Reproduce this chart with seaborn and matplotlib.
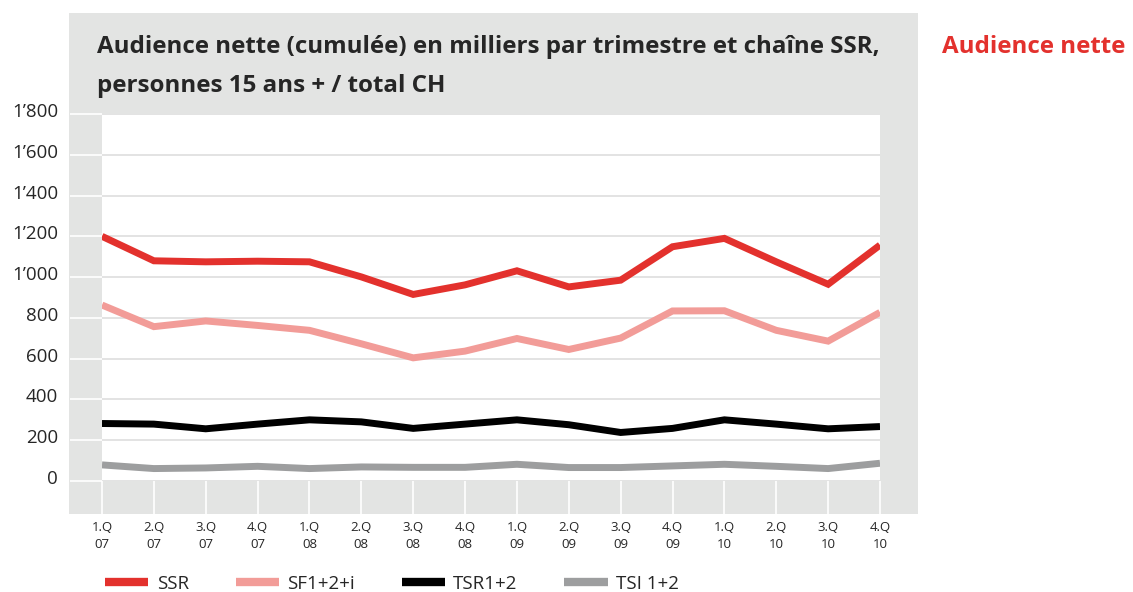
import pandas as pd
import numpy as np
import matplotlib.pyplot as plt
import matplotlib.transforms as mtrans
from matplotlib.patches import Rectangle
import seaborn as sns

# --- données ---
quarters = ["1.Q\n07", "2.Q\n07", "3.Q\n07", "4.Q\n07",
            "1.Q\n08", "2.Q\n08", "3.Q\n08", "4.Q\n08",
            "1.Q\n09", "2.Q\n09", "3.Q\n09", "4.Q\n09",
            "1.Q\n10", "2.Q\n10", "3.Q\n10", "4.Q\n10"]
ssr = [1200, 1080, 1075, 1078, 1075, 1001, 915, 962,
       1031, 952, 985, 1149, 1190, 1075, 965, 1157]
sf = [863, 757, 785, 763, 739, 673, 604, 637,
      699, 645, 701, 834, 835, 739, 686, 827]
tsr = [282, 279, 256, 279, 300, 290, 258, 279,
       300, 276, 238, 258, 300, 279, 256, 267]
tsi = [79, 61, 64, 72, 61, 69, 67, 67,
       82, 66, 66, 74, 82, 72, 61, 87]
channels = ["SSR", "SF1+2+i", "TSR1+2", "TSI 1+2"]
y_ticks = [0, 200, 400, 600, 800, 1000, 1200, 1400, 1600, 1800]
y_labels = ["0", "200", "400", "600", "800", "1’000", "1’200", "1’400", "1’600", "1’800"]

colors = ["#e3312d", "#f29c98", "#000000", "#9d9e9f"]
panel_grey = "#e3e4e3"

df = pd.DataFrame({
    "q": np.tile(np.arange(len(quarters)), 4),
    "value": ssr + sf + tsr + tsi,
    "channel": np.repeat(channels, len(quarters)),
})

sns.set_style("white")
plt.rcParams["font.family"] = ["Open Sans", "DejaVu Sans"]

W, H = 1133, 592
fig = plt.figure(figsize=(W / 100, H / 100), dpi=100)

# fond gris du cadre
fig.add_artist(Rectangle((69 / W, 1 - 514 / H), (918 - 69) / W, (514 - 13) / H,
                         transform=fig.transFigure, facecolor=panel_grey,
                         edgecolor="none", zorder=-5))

ax = fig.add_axes([102 / W, 1 - 481 / H, (880 - 102) / W, (481 - 114) / H])
ax.set_facecolor("white")

sns.lineplot(data=df, x="q", y="value", hue="channel", hue_order=channels,
             palette=colors, linewidth=5, legend=False, ax=ax,
             solid_capstyle="butt", solid_joinstyle="miter")

ax.set_xlim(0, len(quarters) - 1)
ax.set_ylim(0, 1800)
for s in ax.spines.values():
    s.set_visible(False)

ax.set_yticks(y_ticks)
ax.set_yticklabels(y_labels, fontsize=13.5)
ax.set_xticks(range(len(quarters)))
ax.set_xticklabels(quarters, fontsize=9.5, linespacing=1.45)
ax.tick_params(axis="y", length=23, width=1.2, color="white", pad=8.5, left=True)
ax.tick_params(axis="x", length=24, width=1.2, color="white", pad=4.5, bottom=True)
ax.grid(axis="y", color="#dedede", linewidth=1.2)
ax.grid(axis="x", visible=False)
ax.set_xlabel("")
ax.set_ylabel("")

shift = mtrans.ScaledTranslation(0, 4 / 100, fig.dpi_scale_trans)
for lab in ax.get_yticklabels():
    lab.set_transform(lab.get_transform() + shift)

# titres
fig.text(97 / W, 1 - 53 / H, "Audience nette (cumulée) en milliers par trimestre et chaîne SSR,",
         fontsize=17.4, fontweight="bold", ha="left", va="baseline")
fig.text(97 / W, 1 - 92 / H, "personnes 15 ans + / total CH",
         fontsize=17.4, fontweight="bold", ha="left", va="baseline")
fig.text(942 / W, 1 - 53 / H, "Audience nette", color="#e3312d",
         fontsize=17.4, fontweight="bold", ha="left", va="baseline")

# légende
fig.legend(handles=ax.get_lines()[:4], labels=channels, loc="center left",
           bbox_to_anchor=(105 / W, 1 - 584 / H), ncol=4, frameon=False,
           fontsize=13.5, handlelength=2.3, handletextpad=0.45,
           columnspacing=2.5, borderaxespad=0, borderpad=0)
for h in fig.legends[0].legend_handles:
    h.set_linewidth(6)

plt.savefig("out.png", dpi=100)
